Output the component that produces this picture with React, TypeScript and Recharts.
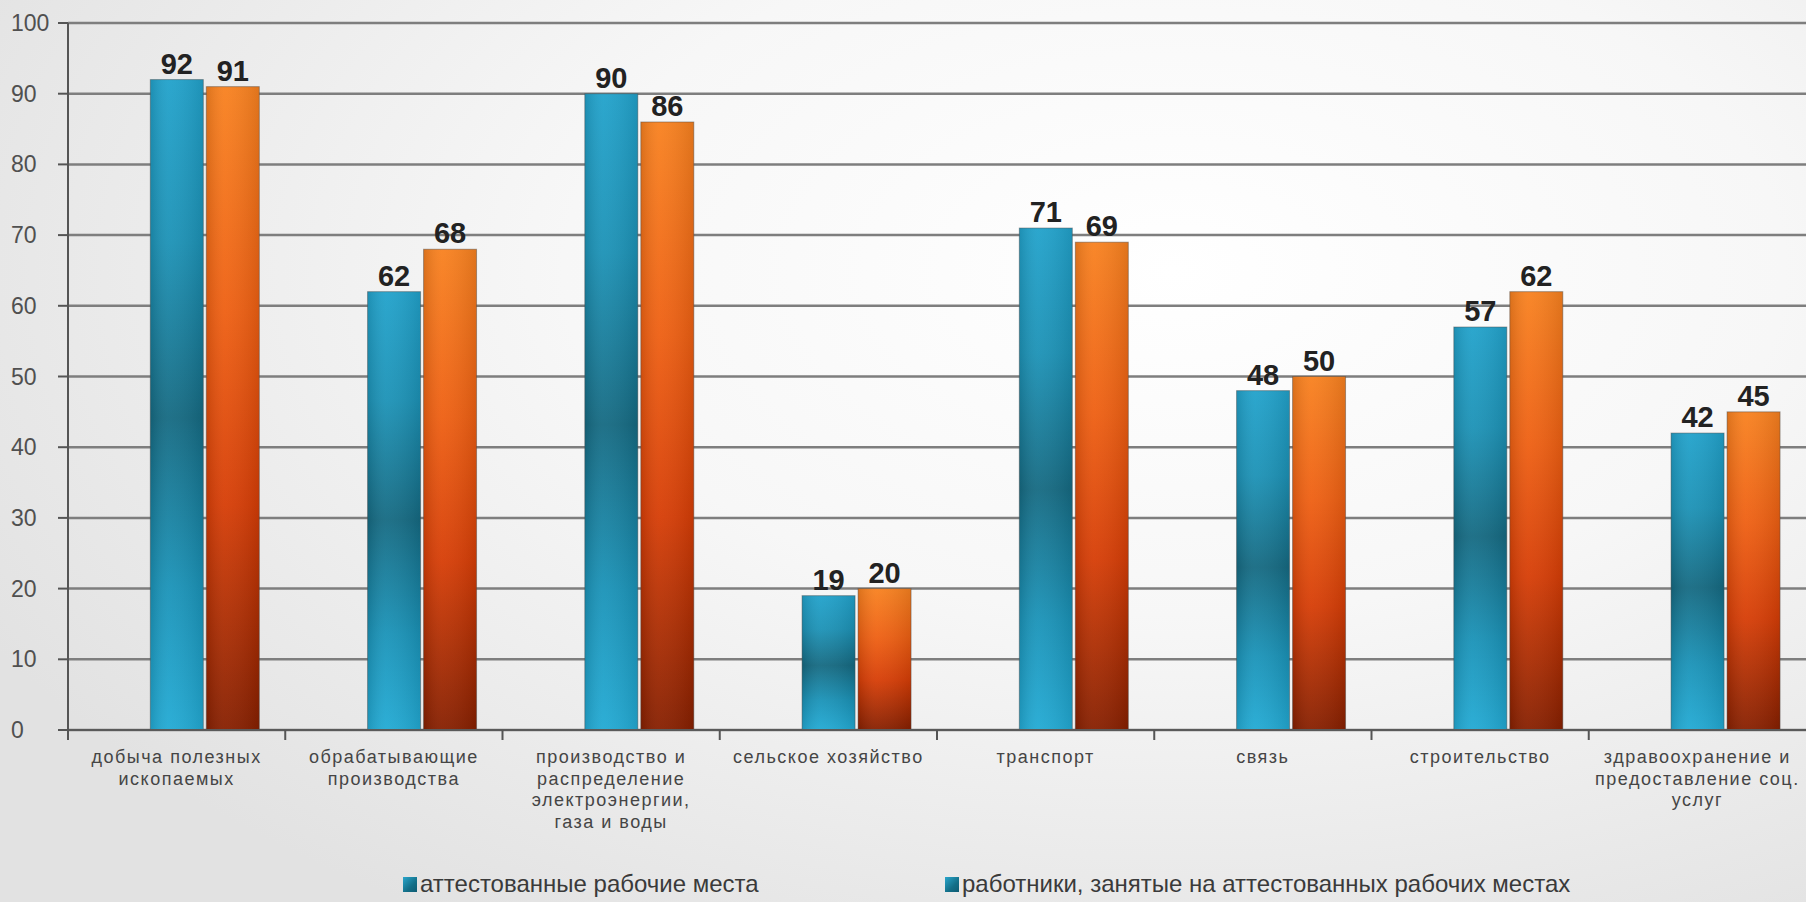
import React from "react";
import { Bar, BarChart, CartesianGrid, LabelList, Legend, XAxis, YAxis } from "recharts";

const CATEGORIES = [
  "добыча полезных\nископаемых",
  "обрабатывающие\nпроизводства",
  "производство и\nраспределение\nэлектроэнергии,\nгаза и воды",
  "сельское хозяйство",
  "транспорт",
  "связь",
  "строительство",
  "здравоохранение и\nпредоставление соц.\nуслуг",
];
const CERTIFIED = [92, 62, 90, 19, 71, 48, 57, 42];
const WORKERS = [91, 68, 86, 20, 69, 50, 62, 45];
const SERIES_NAMES = [
  "аттестованные рабочие места",
  "работники, занятые на аттестованных рабочих местах",
];
const Y_TICKS = [0, 10, 20, 30, 40, 50, 60, 70, 80, 90, 100];

const W = 1806;
const H = 902;
const Y_AXIS_W = 68;
const BAND = (W - Y_AXIS_W) / CATEGORIES.length;
const SHIFT = 28; // bars sit right of the category centre in the original

const data = CATEGORIES.map((name, i) => ({
  name,
  certified: CERTIFIED[i],
  workers: WORKERS[i],
}));

function makeShape(gradId: string) {
  return (props: any) => {
    const { x, y, width, height } = props;
    if (!height || height <= 0) return null;
    return (
      <g>
        <rect x={x + SHIFT} y={y} width={width} height={height} fill={`url(#${gradId})`} />
        <rect x={x + SHIFT} y={y} width={width} height={height} fill="url(#sideShade)" />
        <rect
          x={x + SHIFT}
          y={y}
          width={width}
          height={height}
          fill="none"
          stroke="rgba(70,70,70,0.45)"
          strokeWidth={1}
        />
      </g>
    );
  };
}

function renderValue(props: any) {
  const { x, y, width, value } = props;
  return (
    <text
      x={Number(x) + SHIFT + Number(width) / 2}
      y={Number(y) - 6}
      textAnchor="middle"
      fontSize={29}
      fontWeight="bold"
      fill="#222"
      fontFamily="Liberation Sans, Arial, sans-serif"
    >
      {value}
    </text>
  );
}

function CategoryTick({ x, y, payload }: any) {
  const lines: string[] = String(payload.value).split("\n");
  return (
    <g>
      <line x1={x - BAND / 2} y1={y} x2={x - BAND / 2} y2={y + 10} stroke="#555" strokeWidth={2} />
      {lines.map((line, i) => (
        <text
          key={i}
          x={x}
          y={y + 33 + i * 21.5}
          textAnchor="middle"
          fontSize={18}
          letterSpacing={1.5}
          fill="#454545"
          fontFamily="Liberation Sans, Arial, sans-serif"
        >
          {line}
        </text>
      ))}
    </g>
  );
}

function ValueTick({ y, payload }: any) {
  return (
    <text
      x={11}
      y={y}
      dy={8}
      textAnchor="start"
      fontSize={23}
      fill="#505050"
      fontFamily="Liberation Sans, Arial, sans-serif"
    >
      {payload.value}
    </text>
  );
}

function LegendBox() {
  const itemStyle: React.CSSProperties = {
    position: "absolute",
    top: 0,
    display: "flex",
    alignItems: "center",
    whiteSpace: "nowrap",
    fontSize: 24,
    color: "#3a3a3a",
    fontFamily: "Liberation Sans, Arial, sans-serif",
  };
  const swatch: React.CSSProperties = {
    width: 14,
    height: 15,
    marginRight: 3,
    background: "linear-gradient(135deg, #2aa6cc 0%, #136f88 60%, #0f5c73 100%)",
  };
  return (
    <div style={{ position: "relative", height: 32, width: W }}>
      <div style={{ ...itemStyle, left: 403 }}>
        <span style={swatch} />
        {SERIES_NAMES[0]}
      </div>
      <div style={{ ...itemStyle, left: 945 }}>
        <span style={swatch} />
        {SERIES_NAMES[1]}
      </div>
    </div>
  );
}

export default function App() {
  return (
    <div
      style={{
        width: W,
        height: H,
        background:
          "radial-gradient(ellipse 75% 85% at 65% 30%, #ffffff 0%, #f7f7f7 45%, #e2e2e2 100%)",
      }}
    >
      <style>{"body{margin:0}"}</style>
      <BarChart
        width={W}
        height={H}
        data={data}
        margin={{ top: 23, right: 0, bottom: 0, left: 0 }}
        barCategoryGap="25%"
        barGap={3}
      >
        <defs>
          <linearGradient id="blueFill" x1="0" y1="0" x2="0" y2="1">
            <stop offset="0%" stopColor="#21a2cb" />
            <stop offset="25%" stopColor="#1c92b6" />
            <stop offset="52%" stopColor="#156a82" />
            <stop offset="78%" stopColor="#1a93b8" />
            <stop offset="100%" stopColor="#22aad4" />
          </linearGradient>
          <linearGradient id="orangeFill" x1="0" y1="0" x2="0" y2="1">
            <stop offset="0%" stopColor="#f8811f" />
            <stop offset="35%" stopColor="#ee5f12" />
            <stop offset="65%" stopColor="#d63d06" />
            <stop offset="100%" stopColor="#861f00" />
          </linearGradient>
          <linearGradient id="sideShade" x1="0" y1="0" x2="1" y2="0">
            <stop offset="0%" stopColor="#000" stopOpacity={0.12} />
            <stop offset="35%" stopColor="#fff" stopOpacity={0.05} />
            <stop offset="100%" stopColor="#000" stopOpacity={0.1} />
          </linearGradient>
        </defs>
        <CartesianGrid vertical={false} stroke="#7e7e7e" strokeWidth={2.5} />
        <XAxis
          dataKey="name"
          interval={0}
          height={140}
          tickSize={0}
          tickMargin={0}
          axisLine={{ stroke: "#5a5a5a", strokeWidth: 2 }}
          tick={<CategoryTick />}
        />
        <YAxis
          domain={[0, 100]}
          ticks={Y_TICKS}
          width={Y_AXIS_W}
          tickSize={10}
          axisLine={{ stroke: "#555", strokeWidth: 2 }}
          tickLine={{ stroke: "#555", strokeWidth: 2 }}
          tick={<ValueTick />}
        />
        <Legend verticalAlign="bottom" height={32} content={<LegendBox />} />
        <Bar
          dataKey="certified"
          name={SERIES_NAMES[0]}
          fill="#1b8fb3"
          shape={makeShape("blueFill")}
          isAnimationActive={false}
        >
          <LabelList dataKey="certified" content={renderValue} />
        </Bar>
        <Bar
          dataKey="workers"
          name={SERIES_NAMES[1]}
          fill="#ee5f12"
          shape={makeShape("orangeFill")}
          isAnimationActive={false}
        >
          <LabelList dataKey="workers" content={renderValue} />
        </Bar>
      </BarChart>
    </div>
  );
}
